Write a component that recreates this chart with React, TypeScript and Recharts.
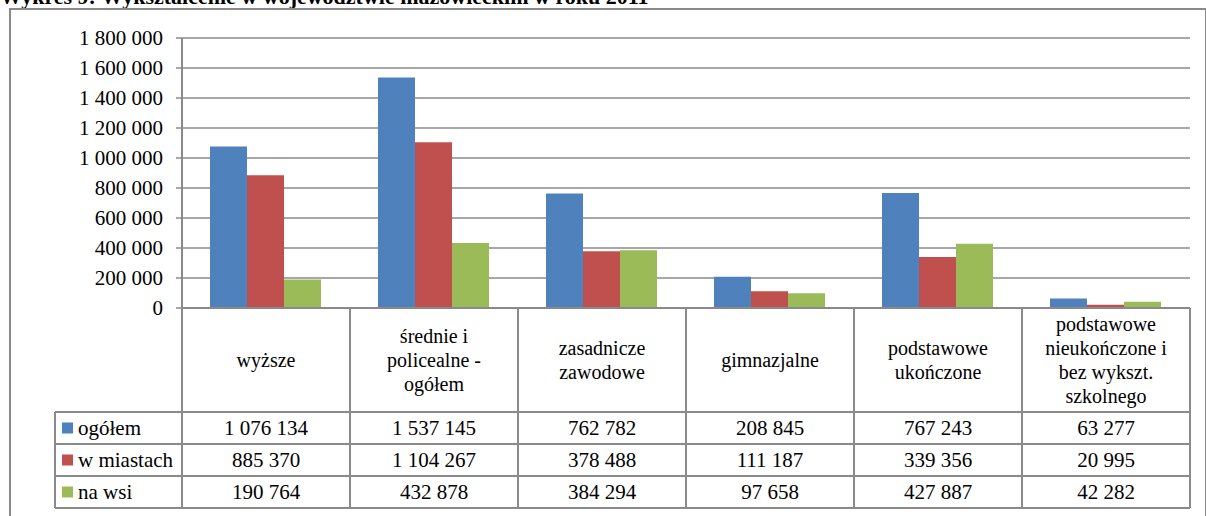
import React from 'react';
import { BarChart, Bar, XAxis, YAxis, CartesianGrid } from 'recharts';

const title = 'Wykres 9: Wykształcenie w województwie mazowieckim w roku 2011';

const categories = [
  'wyższe',
  'średnie i\npolicealne -\nogółem',
  'zasadnicze\nzawodowe',
  'gimnazjalne',
  'podstawowe\nukończone',
  'podstawowe\nnieukończone i\nbez wykszt.\nszkolnego',
];

const ogolem = [1076134, 1537145, 762782, 208845, 767243, 63277];
const wMiastach = [885370, 1104267, 378488, 111187, 339356, 20995];
const naWsi = [190764, 432878, 384294, 97658, 427887, 42282];

const seriesNames = ['ogółem', 'w miastach', 'na wsi'];
const yTicks = [0, 200000, 400000, 600000, 800000, 1000000, 1200000, 1400000, 1600000, 1800000];

const COLORS = ['#4F81BD', '#C0504D', '#9BBB59'];
const LINE = '#8a8a8a';
const FONT = 'Liberation Serif';

const W = 1206;
const H = 516;
const PLOT_LEFT = 182;
const PLOT_RIGHT = 1190;
const PLOT_TOP = 38;
const PLOT_BOTTOM = 308;
const TABLE_LEFT = 55;
const ROW_TOPS = [412, 444, 476, 508];

const fmt = (n: number) => String(n).replace(/\B(?=(\d{3})+(?!\d))/g, ' ');

const data = categories.map((c, i) => ({
  name: c,
  ogolem: ogolem[i],
  wMiastach: wMiastach[i],
  naWsi: naWsi[i],
}));

const seriesValues = [ogolem, wMiastach, naWsi];

const txt = { fontFamily: FONT, fontSize: 21 };
const headTxt = { fontFamily: FONT, fontSize: 20 };

const CategoryTick = (props: any) => {
  const { x, payload } = props;
  const lines = String(payload.value).split('\n');
  const lh = 24;
  const cy = (PLOT_BOTTOM + ROW_TOPS[0]) / 2;
  const startY = cy - ((lines.length - 1) * lh) / 2;
  return (
    <g>
      {lines.map((l, i) => (
        <text key={i} x={x} y={startY + i * lh} dy="0.35em" textAnchor="middle" style={headTxt} fill="#000">
          {l}
        </text>
      ))}
    </g>
  );
};

const App: React.FC = () => {
  const catW = (PLOT_RIGHT - PLOT_LEFT) / categories.length;

  return (
    <div
      style={{
        position: 'absolute',
        left: 0,
        top: 0,
        width: W,
        height: H,
        background: '#fff',
        overflow: 'hidden',
        fontFamily: FONT,
      }}
    >
      <BarChart
        width={W}
        height={H}
        data={data}
        margin={{ top: PLOT_TOP, right: W - PLOT_RIGHT, bottom: 0, left: PLOT_LEFT - 120 }}
        barCategoryGap="16.67%"
        barGap={0}
      >
        <CartesianGrid vertical={false} stroke={LINE} strokeWidth={1.5} />
        <XAxis
          dataKey="name"
          height={H - PLOT_BOTTOM}
          axisLine={{ stroke: LINE, strokeWidth: 2 }}
          tickLine={false}
          tick={<CategoryTick />}
          interval={0}
        />
        <YAxis
          width={120}
          domain={[0, 1800000]}
          ticks={yTicks}
          interval={0}
          tickFormatter={fmt}
          tickSize={6}
          tickMargin={13}
          axisLine={{ stroke: LINE, strokeWidth: 2 }}
          tickLine={{ stroke: LINE, strokeWidth: 1.5 }}
          tick={{ fill: '#000', fontSize: 21, fontFamily: FONT, style: txt }}
        />
        <Bar dataKey="ogolem" fill={COLORS[0]} isAnimationActive={false} />
        <Bar dataKey="wMiastach" fill={COLORS[1]} isAnimationActive={false} />
        <Bar dataKey="naWsi" fill={COLORS[2]} isAnimationActive={false} />
      </BarChart>

      <svg width={W} height={H} style={{ position: 'absolute', left: 0, top: 0, pointerEvents: 'none' }}>
        <text x={0} y={4} style={{ fontFamily: FONT, fontSize: 22, fontWeight: 'bold' }} fill="#000">
          {title}
        </text>
        <rect x={10} y={9} width={W - 10} height={H} fill="none" stroke={LINE} strokeWidth={2} />

        {/* table grid */}
        {categories.map((_, i) => (
          <line
            key={'v' + i}
            x1={PLOT_LEFT + i * catW}
            x2={PLOT_LEFT + i * catW}
            y1={PLOT_BOTTOM}
            y2={ROW_TOPS[3]}
            stroke={LINE}
            strokeWidth={2}
          />
        ))}
        <line x1={PLOT_RIGHT} x2={PLOT_RIGHT} y1={PLOT_BOTTOM} y2={ROW_TOPS[3]} stroke={LINE} strokeWidth={2} />
        <line x1={TABLE_LEFT} x2={TABLE_LEFT} y1={ROW_TOPS[0]} y2={ROW_TOPS[3]} stroke={LINE} strokeWidth={2} />
        {ROW_TOPS.map((y, i) => (
          <line key={'h' + i} x1={TABLE_LEFT} x2={PLOT_RIGHT} y1={y} y2={y} stroke={LINE} strokeWidth={2} />
        ))}

        {seriesNames.map((name, r) => {
          const cy = (ROW_TOPS[r] + ROW_TOPS[r + 1]) / 2;
          return (
            <g key={'r' + r}>
              <rect x={62} y={cy - 5.5} width={11} height={11} fill={COLORS[r]} />
              <text x={78} y={cy} dy="0.35em" style={txt} fill="#000">
                {name}
              </text>
              {seriesValues[r].map((v, c) => (
                <text
                  key={c}
                  x={PLOT_LEFT + (c + 0.5) * catW}
                  y={cy}
                  dy="0.35em"
                  textAnchor="middle"
                  style={txt}
                  fill="#000"
                >
                  {fmt(v)}
                </text>
              ))}
            </g>
          );
        })}
      </svg>
    </div>
  );
};

export default App;
